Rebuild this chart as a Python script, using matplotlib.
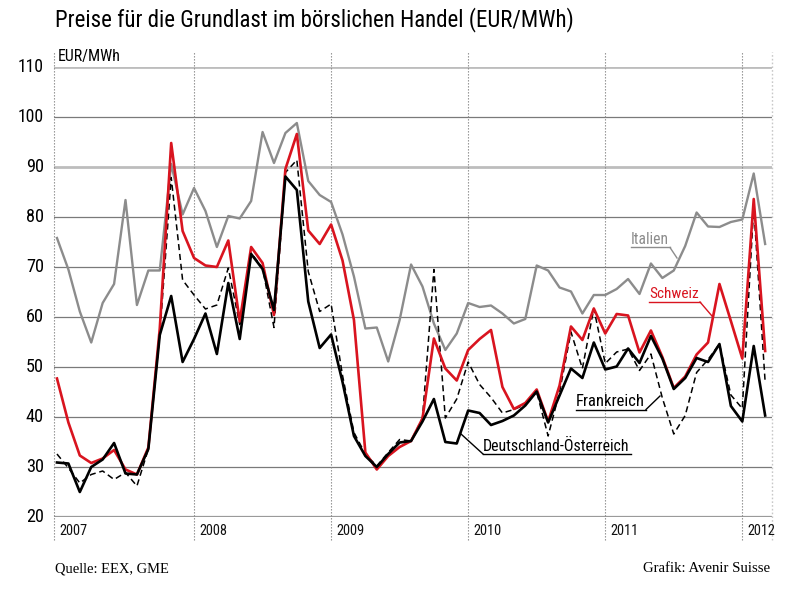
import matplotlib
matplotlib.use("Agg")
import matplotlib.pyplot as plt

# ---------------- data (monthly, Jan 2007 .. Mar 2012) ----------------
schweiz = [47.7, 38.9, 32.3, 30.8, 31.7, 33.4, 29.5, 28.5, 33.9, 57.7, 94.8, 77.2,
           71.8, 70.3, 70.0, 75.3, 59.1, 74.0, 70.8, 60.4, 89.6, 96.6, 77.3, 74.6,
           78.5, 71.3, 59.4, 32.9, 29.5, 32.2, 34.0, 35.2, 39.7, 55.7, 49.7, 47.3,
           53.4, 55.6, 57.4, 46.0, 41.6, 42.8, 45.5, 39.1, 46.3, 58.1, 55.4, 61.7,
           56.7, 60.6, 60.3, 52.9, 57.3, 52.0, 45.8, 48.1, 52.5, 54.9, 66.6, 59.2,
           51.7, 83.6, 53.2]
italien = [75.8, 69.5, 61.1, 54.9, 62.8, 66.6, 83.4, 62.4, 69.3, 69.3, 90.6, 80.5,
           85.8, 81.2, 74.0, 80.2, 79.7, 83.2, 97.0, 90.8, 96.8, 98.8, 87.2, 84.4,
           83.0, 76.5, 68.1, 57.7, 57.9, 51.1, 59.4, 70.5, 66.1, 58.7, 53.4, 56.7,
           62.8, 62.0, 62.3, 60.7, 58.7, 59.6, 70.3, 69.3, 65.9, 65.1, 60.7, 64.4,
           64.4, 65.6, 67.6, 64.6, 70.7, 67.8, 69.3, 74.2, 80.9, 78.1, 78.0, 79.0,
           79.5, 88.7, 74.6]
deutschland_oesterreich = [30.9, 30.7, 25.0, 30.0, 31.5, 34.8, 28.7, 28.5, 33.6, 56.4, 64.2, 51.0,
           55.6, 60.7, 52.6, 66.8, 55.6, 72.6, 69.6, 61.4, 88.1, 85.4, 63.1, 53.8,
           56.5, 47.0, 36.2, 32.2, 30.0, 32.6, 34.9, 35.2, 39.1, 43.6, 35.0, 34.7,
           41.3, 40.8, 38.4, 39.2, 40.3, 42.3, 45.1, 38.9, 44.3, 49.7, 47.8, 54.9,
           49.5, 50.1, 53.7, 50.8, 56.2, 51.7, 45.6, 47.8, 51.8, 51.0, 54.6, 42.2,
           39.1, 54.2, 40.3]
frankreich = [32.6, 29.8, 26.8, 28.5, 29.2, 27.5, 28.9, 26.2, 33.6, 56.4, 87.9, 67.4,
           64.4, 61.6, 62.4, 69.8, 58.5, 72.8, 69.8, 57.9, 88.9, 91.4, 69.1, 61.1,
           62.6, 48.3, 36.9, 32.6, 30.2, 32.9, 35.5, 35.2, 39.8, 69.5, 39.8, 43.6,
           51.0, 46.5, 43.9, 40.8, 41.5, 42.5, 45.0, 36.2, 45.0, 57.0, 49.7, 61.7,
           50.7, 53.0, 53.6, 49.3, 52.6, 43.8, 36.6, 40.3, 48.9, 51.5, 54.6, 44.4,
           41.7, 82.0, 47.0]
years = ["2007", "2008", "2009", "2010", "2011", "2012"]
yticks = [20, 30, 40, 50, 60, 70, 80, 90, 100, 110]

SANS = ["Roboto Condensed", "Roboto", "DejaVu Sans"]
SERIF = ["Liberation Serif", "DejaVu Serif"]
RED = "#d9141f"
GRAY = "#8c8c8c"

fig = plt.figure(figsize=(8.0, 5.96), dpi=100)
renderer = fig.canvas.get_renderer()

def fit(t, width_px):
    """scale font size so the rendered text has the given pixel width"""
    for _ in range(3):
        w = t.get_window_extent(renderer).width
        t.set_fontsize(t.get_fontsize() * width_px / w)
    return t

ax = fig.add_axes([54/800, 1-517/596, (772-54)/800, (517-67)/596])
x = list(range(len(schweiz)))
ax.set_xlim(-0.26, 62.6)
ax.set_ylim(20, 110)

# grid lines
for v in yticks:
    if v in (90, 110):
        ax.axhline(v, color="#bdbdbd", lw=2.0, zorder=1)
    elif v == 20:
        ax.axhline(v, color="#9a9a9a", lw=1.6, zorder=1)
    else:
        ax.axhline(v, color="#7a7a7a", lw=0.9, zorder=1)

# year separators (dotted, extend beyond axes)
ylo, yhi = (517-540)/450, (517-52)/450
year_pos = [-0.26, 12, 24, 36, 48, 60]
for xp, lab in zip(year_pos, years):
    ax.axvline(xp, ymin=ylo, ymax=yhi, color="#888888", lw=0.8,
               ls=(0, (1.2, 1.5)), clip_on=False, zorder=1)
    t = ax.text(xp + 0.45, -0.032, lab, transform=ax.get_xaxis_transform(),
                ha="left", va="center", fontsize=11, family=SANS, color="#111111")
    fit(t, 28)
ax.axvline(62.6, ymin=ylo, ymax=yhi, color="#c8c8c8", lw=1.0,
           ls=(0, (1.2, 1.5)), clip_on=False, zorder=1)

# series
ax.plot(x, italien, color=GRAY, lw=1.7, zorder=3)
ax.plot(x, frankreich, color="black", lw=1.1, ls=(0, (4, 2.5)), zorder=4)
ax.plot(x, schweiz, color=RED, lw=1.9, zorder=5)
ax.plot(x, deutschland_oesterreich, color="black", lw=1.9, zorder=6)

for s in ax.spines.values():
    s.set_visible(False)
ax.set_xticks([])
ax.set_yticks([])
for v in yticks:
    t = ax.text(44/800, 1-(517-(v-20)*5)/596, str(v), transform=fig.transFigure,
                ha="right", va="center", fontsize=11, family=SANS)
    fit(t, 26 if v >= 100 else 18)

# unit label
fit(fig.text(58/800, 1-56/596, "EUR/MWh", ha="left", va="center",
             fontsize=11, family=SANS), 63)

def label(text, color, tx, ty, ux0, ux1, uy, lead):
    t = fig.text(tx/800, 1-ty/596, text, ha="left", va="center", fontsize=12,
                 family=SANS, color=color)
    fit(t, ux1 - ux0 - 1)
    fig.add_artist(plt.Line2D([ux0/800, ux1/800], [1-uy/596, 1-uy/596],
                              transform=fig.transFigure, color=color, lw=1.0))
    (a, b), (c, d) = lead
    fig.add_artist(plt.Line2D([a/800, c/800], [1-b/596, 1-d/596],
                              transform=fig.transFigure, color=color, lw=1.0))

label("Italien", GRAY, 631, 239, 631, 670, 247.5, ((670, 247.5), (677, 258)))
label("Schweiz", RED, 649, 294, 649, 700, 302, ((700, 302), (712, 316)))
label("Frankreich", "black", 576, 401, 576, 646, 409.5, ((646, 409.5), (660, 396)))
label("Deutschland-Österreich", "black", 483, 446, 483, 631, 454, ((483, 454), (461, 434)))

# title and footer
fit(fig.text(55/800, 1-20/596, "Preise für die Grundlast im börslichen Handel (EUR/MWh)",
             ha="left", va="center", fontsize=16, family=SANS, color="black"), 518)
fit(fig.text(55/800, 1-569/596, "Quelle: EEX, GME", ha="left", va="center",
             fontsize=11, family=SERIF), 114)
fit(fig.text(770/800, 1-569/596, "Grafik: Avenir Suisse", ha="right", va="center",
             fontsize=11, family=SERIF), 127)

fig.savefig("out.png", dpi=100, facecolor="white")
